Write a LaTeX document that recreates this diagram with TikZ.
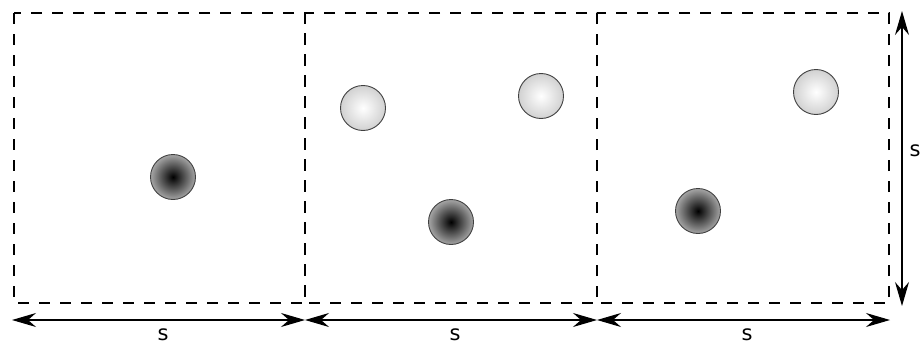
\documentclass[tikz,border=0pt]{standalone}
\usepackage{fontspec}
\setmainfont{DejaVu Sans}
\usetikzlibrary{arrows.meta}
\begin{document}
\begin{tikzpicture}[x=1pt,y=-1pt,
  cell/.style={draw=black,line width=1.2pt,dash pattern=on 11pt off 10pt},
  tip/.tip={Stealth[length=24pt,width=14pt,inset=8pt]},
  dim/.style={line width=1.2pt,tip-tip},
  darkball/.style={circle,minimum size=45pt,inner sep=0pt,draw=black!75,line width=0.9pt,inner color=black,outer color=black!35},
  lightball/.style={circle,minimum size=45pt,inner sep=0pt,draw=black!75,line width=0.9pt,inner color=white,outer color=black!18},
  lbl/.style={font=\fontsize{21pt}{21pt}\selectfont,inner sep=0pt}]
\useasboundingbox (0,0) rectangle (924,348);
\coordinate (p0) at (14,13);
\coordinate (p1) at (305,13);
\coordinate (p2) at (597,13);
\coordinate (p3) at (889,13);
\coordinate (q0) at (14,303);
\coordinate (q1) at (305,303);
\coordinate (q2) at (597,303);
\coordinate (q3) at (889,303);
\draw[cell] (p0) rectangle (q1);
\draw[cell] (p1) rectangle (q2);
\draw[cell] (p2) rectangle (q3);
\node[darkball] (d1) at (173,177) {};
\node[lightball] (l1) at (363,108) {};
\node[lightball] (l2) at (541,96) {};
\node[darkball] (d2) at (451,222) {};
\node[lightball] (l3) at (816,92) {};
\node[darkball] (d3) at (698,211) {};
\coordinate (a0) at (12,320);
\coordinate (a1) at (305,320);
\coordinate (a2) at (597,320);
\coordinate (a3) at (890,320);
\draw[dim] (a0) -- (a1);
\draw[dim] (a1) -- (a2);
\draw[dim] (a2) -- (a3);
\node[lbl] (s1) at (163,335) {s};
\node[lbl] (s2) at (455,335) {s};
\node[lbl] (s3) at (747,335) {s};
\coordinate (v0) at (902,11);
\coordinate (v1) at (902,306);
\draw[dim] (v0) -- (v1);
\node[lbl] (s4) at (915,151) {s};
\end{tikzpicture}
\end{document}
